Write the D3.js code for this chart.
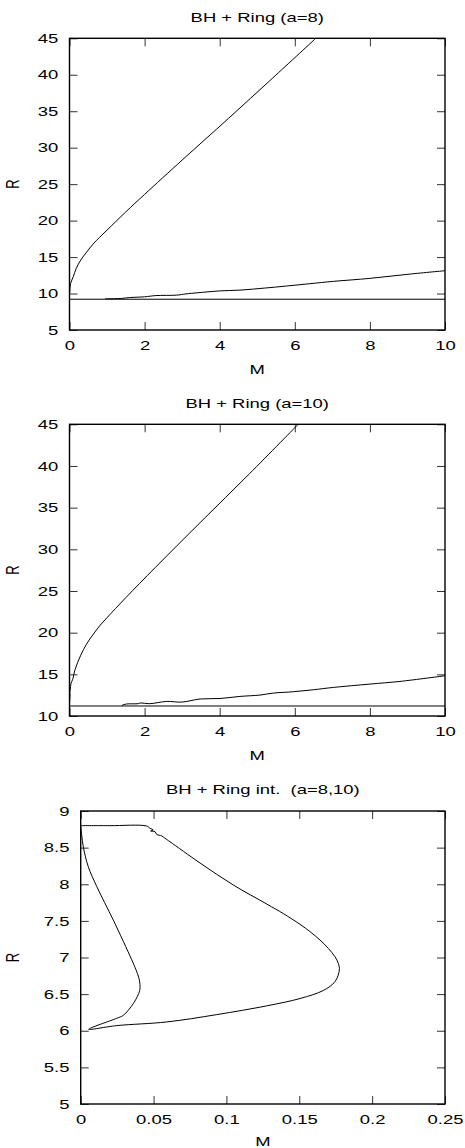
<!DOCTYPE html>
<html>
<head>
<meta charset="utf-8">
<script src="https://cdn.jsdelivr.net/npm/d3@7"></script>
<style>
  html, body { margin: 0; padding: 0; background: #fff; }
  svg { display: block; }
  text { font-family: "Liberation Sans", Arial, Helvetica, sans-serif; fill: #000; }
</style>
</head>
<body>
<svg id="chart" width="465" height="1148"></svg>
<script>
// ---------- data ----------
const titles = ["BH + Ring (a=8)", "BH + Ring (a=10)", "BH + Ring int.  (a=8,10)"];
const xLabel = "M";
const yLabel = "R";

const xTicks1 = [0, 2, 4, 6, 8, 10];
const yTicks1 = [5, 10, 15, 20, 25, 30, 35, 40, 45];
const xTicks2 = [0, 2, 4, 6, 8, 10];
const yTicks2 = [10, 15, 20, 25, 30, 35, 40, 45];
const xTicks3 = [0, 0.05, 0.1, 0.15, 0.2, 0.25];
const yTicks3 = [5, 5.5, 6, 6.5, 7, 7.5, 8, 8.5, 9];

// panel 1 (a=8)
const upper8M = [0, 0.005, 0.01, 0.03, 0.10, 0.18, 0.30, 0.46, 0.63, 0.8, 1.0, 1.5, 2.0, 3.0, 4.23, 5.4, 6.56];
const upper8R = [10.0, 10.1, 10.5, 11.4, 12.3, 13.45, 14.6, 15.7, 16.8, 17.7, 18.7, 21.2, 23.6, 28.3, 34.0, 39.5, 45.0];
const lower8M = [0.95, 1.2, 1.39, 1.6, 2.0, 2.3, 2.85, 3.1, 3.4, 4.0, 4.54, 5.2, 5.78, 6.4, 7.03, 8.0, 9.07, 10];
const lower8R = [9.28, 9.3, 9.33, 9.45, 9.55, 9.72, 9.78, 9.95, 10.1, 10.36, 10.47, 10.75, 11.03, 11.35, 11.67, 12.08, 12.67, 13.13];
const flat8R = 9.22;

// panel 2 (a=10)
const upper10M = [0, 0.006, 0.014, 0.009, 0.022, 0.04, 0.085, 0.15, 0.3, 0.45, 0.6, 0.8, 1.0, 1.5, 2.28, 3.5, 4.8, 6.09];
const upper10R = [11.3, 11.9, 12.4, 12.8, 13.2, 13.9, 14.4, 15.6, 17.3, 18.6, 19.6, 20.8, 21.8, 24.2, 27.8, 33.3, 39.1, 45.0];
const lower10M = [1.39, 1.52, 1.83, 1.88, 2.14, 2.59, 2.99, 3.48, 4.01, 4.54, 5.07, 5.43, 5.96, 6.5, 7.03, 8.0, 8.8, 10];
const lower10R = [11.28, 11.44, 11.48, 11.56, 11.48, 11.75, 11.67, 12.04, 12.1, 12.35, 12.51, 12.75, 12.91, 13.15, 13.43, 13.83, 14.15, 14.83];
const flat10R = 11.2;

// panel 3 (interaction, a=8,10)
const intM = [0, 0.02, 0.0453, 0.0476, 0.0498, 0.048, 0.051, 0.0522, 0.0556, 0.0579, 0.0613, 0.0819, 0.1047, 0.1277, 0.1390, 0.1505, 0.1574, 0.1642, 0.1699, 0.1745, 0.1768, 0.1775, 0.1745, 0.1665, 0.1505, 0.1277, 0.0933, 0.059, 0.0247, 0.0055, 0.0247, 0.0292, 0.0361, 0.0389, 0.0405, 0.0407, 0.0398, 0.038, 0.035, 0.0224, 0.011, 0.0052, 0.0018, 0];
const intR = [8.8, 8.8, 8.795, 8.764, 8.74, 8.727, 8.717, 8.68, 8.66, 8.627, 8.58, 8.29, 7.99, 7.73, 7.60, 7.453, 7.353, 7.239, 7.125, 7.01, 6.92, 6.83, 6.67, 6.55, 6.44, 6.34, 6.22, 6.12, 6.07, 6.02, 6.17, 6.21, 6.37, 6.47, 6.55, 6.63, 6.73, 6.83, 6.97, 7.51, 7.97, 8.24, 8.51, 8.8];

// ---------- drawing ----------
const SX = 1.42;       // horizontal stretch of text seen in the reference
const FS = 13;
const svg = d3.select("#chart");
svg.append("rect").attr("width", 465).attr("height", 1148).attr("fill", "#fff");

const zip = (a, b) => a.map((v, i) => [v, b[i]]);

const panels = [
  { title: titles[0], left: 69.5, right: 445, top: 38.3, bottom: 330, xd: [0, 10], yd: [5, 45], xt: xTicks1, yt: yTicks1,
    series: [zip(upper8M, upper8R), zip(lower8M, lower8R), zip([0, 10], [flat8R, flat8R])] },
  { title: titles[1], left: 69.5, right: 445, top: 424.3, bottom: 716, xd: [0, 10], yd: [10, 45], xt: xTicks2, yt: yTicks2,
    series: [zip(upper10M, upper10R), zip(lower10M, lower10R), zip([0, 10], [flat10R, flat10R])] },
  { title: titles[2], left: 80.7, right: 445, top: 811, bottom: 1104, xd: [0, 0.25], yd: [5, 9], xt: xTicks3, yt: yTicks3,
    series: [zip(intM, intR)] }
];

function stretchedText(g, x, y, str, anchor, rotate) {
  return g.append("g").attr("transform", `translate(${x},${y}) scale(${SX},1)` + (rotate ? " rotate(-90)" : ""))
    .append("text")
    .attr("text-anchor", anchor)
    .attr("font-size", FS)
    .style("white-space", "pre")
    .text(str);
}

panels.forEach((p, i) => {
  const g = svg.append("g");
  const x = d3.scaleLinear().domain(p.xd).range([p.left, p.right]);
  const y = d3.scaleLinear().domain(p.yd).range([p.bottom, p.top]);
  const fmt = d3.format("");

  const clipId = "clip" + i;
  svg.append("clipPath").attr("id", clipId).append("rect")
    .attr("x", p.left).attr("y", p.top).attr("width", p.right - p.left).attr("height", p.bottom - p.top);

  const tickLen = 8;
  const ab = g.append("g").attr("transform", `translate(0,${p.bottom})`)
    .call(d3.axisBottom(x).tickValues(p.xt).tickSizeInner(-tickLen).tickSizeOuter(0).tickPadding(11).tickFormat(fmt));
  const al = g.append("g").attr("transform", `translate(${p.left},0)`)
    .call(d3.axisLeft(y).tickValues(p.yt).tickSizeInner(-tickLen).tickSizeOuter(0).tickPadding(11.2).tickFormat(fmt));
  const at = g.append("g").attr("transform", `translate(0,${p.top})`)
    .call(d3.axisTop(x).tickValues(p.xt).tickSizeInner(-tickLen).tickSizeOuter(0).tickFormat(""));
  const ar = g.append("g").attr("transform", `translate(${p.right},0)`)
    .call(d3.axisRight(y).tickValues(p.yt).tickSizeInner(-tickLen).tickSizeOuter(0).tickFormat(""));

  [ab, al, at, ar].forEach(a => {
    a.select(".domain").remove();
    a.selectAll(".tick line").attr("stroke", "#333").attr("stroke-width", 1);
  });
  ab.selectAll(".tick text").attr("font-size", FS).attr("font-family", null).attr("fill", "#000")
    .attr("transform", `scale(${SX},1)`);
  al.selectAll(".tick text").attr("font-size", FS).attr("font-family", null).attr("fill", "#000")
    .attr("x", -11.2 / SX).attr("transform", `scale(${SX},1)`);
  ab.attr("font-family", null).attr("font-size", null);
  al.attr("font-family", null).attr("font-size", null);

  g.append("rect").attr("x", p.left).attr("y", p.top)
    .attr("width", p.right - p.left).attr("height", p.bottom - p.top)
    .attr("fill", "none").attr("stroke", "#000").attr("stroke-width", 1.4);

  const line = d3.line().x(d => x(d[0])).y(d => y(d[1])).curve(d3.curveCatmullRom.alpha(0.5));
  p.series.forEach(s => {
    g.append("path").datum(s).attr("d", line).attr("clip-path", `url(#${clipId})`)
      .attr("fill", "none").attr("stroke", "#000").attr("stroke-width", 1);
  });

  const cx = (p.left + p.right) / 2;
  stretchedText(g, cx, p.top - 16.7, p.title, "middle", false);
  stretchedText(g, cx, Math.min(p.bottom + 43.5, 1145.5), xLabel, "middle", false);
  stretchedText(g, 19, (p.top + p.bottom) / 2, yLabel, "middle", true);
});
</script>
</body>
</html>
